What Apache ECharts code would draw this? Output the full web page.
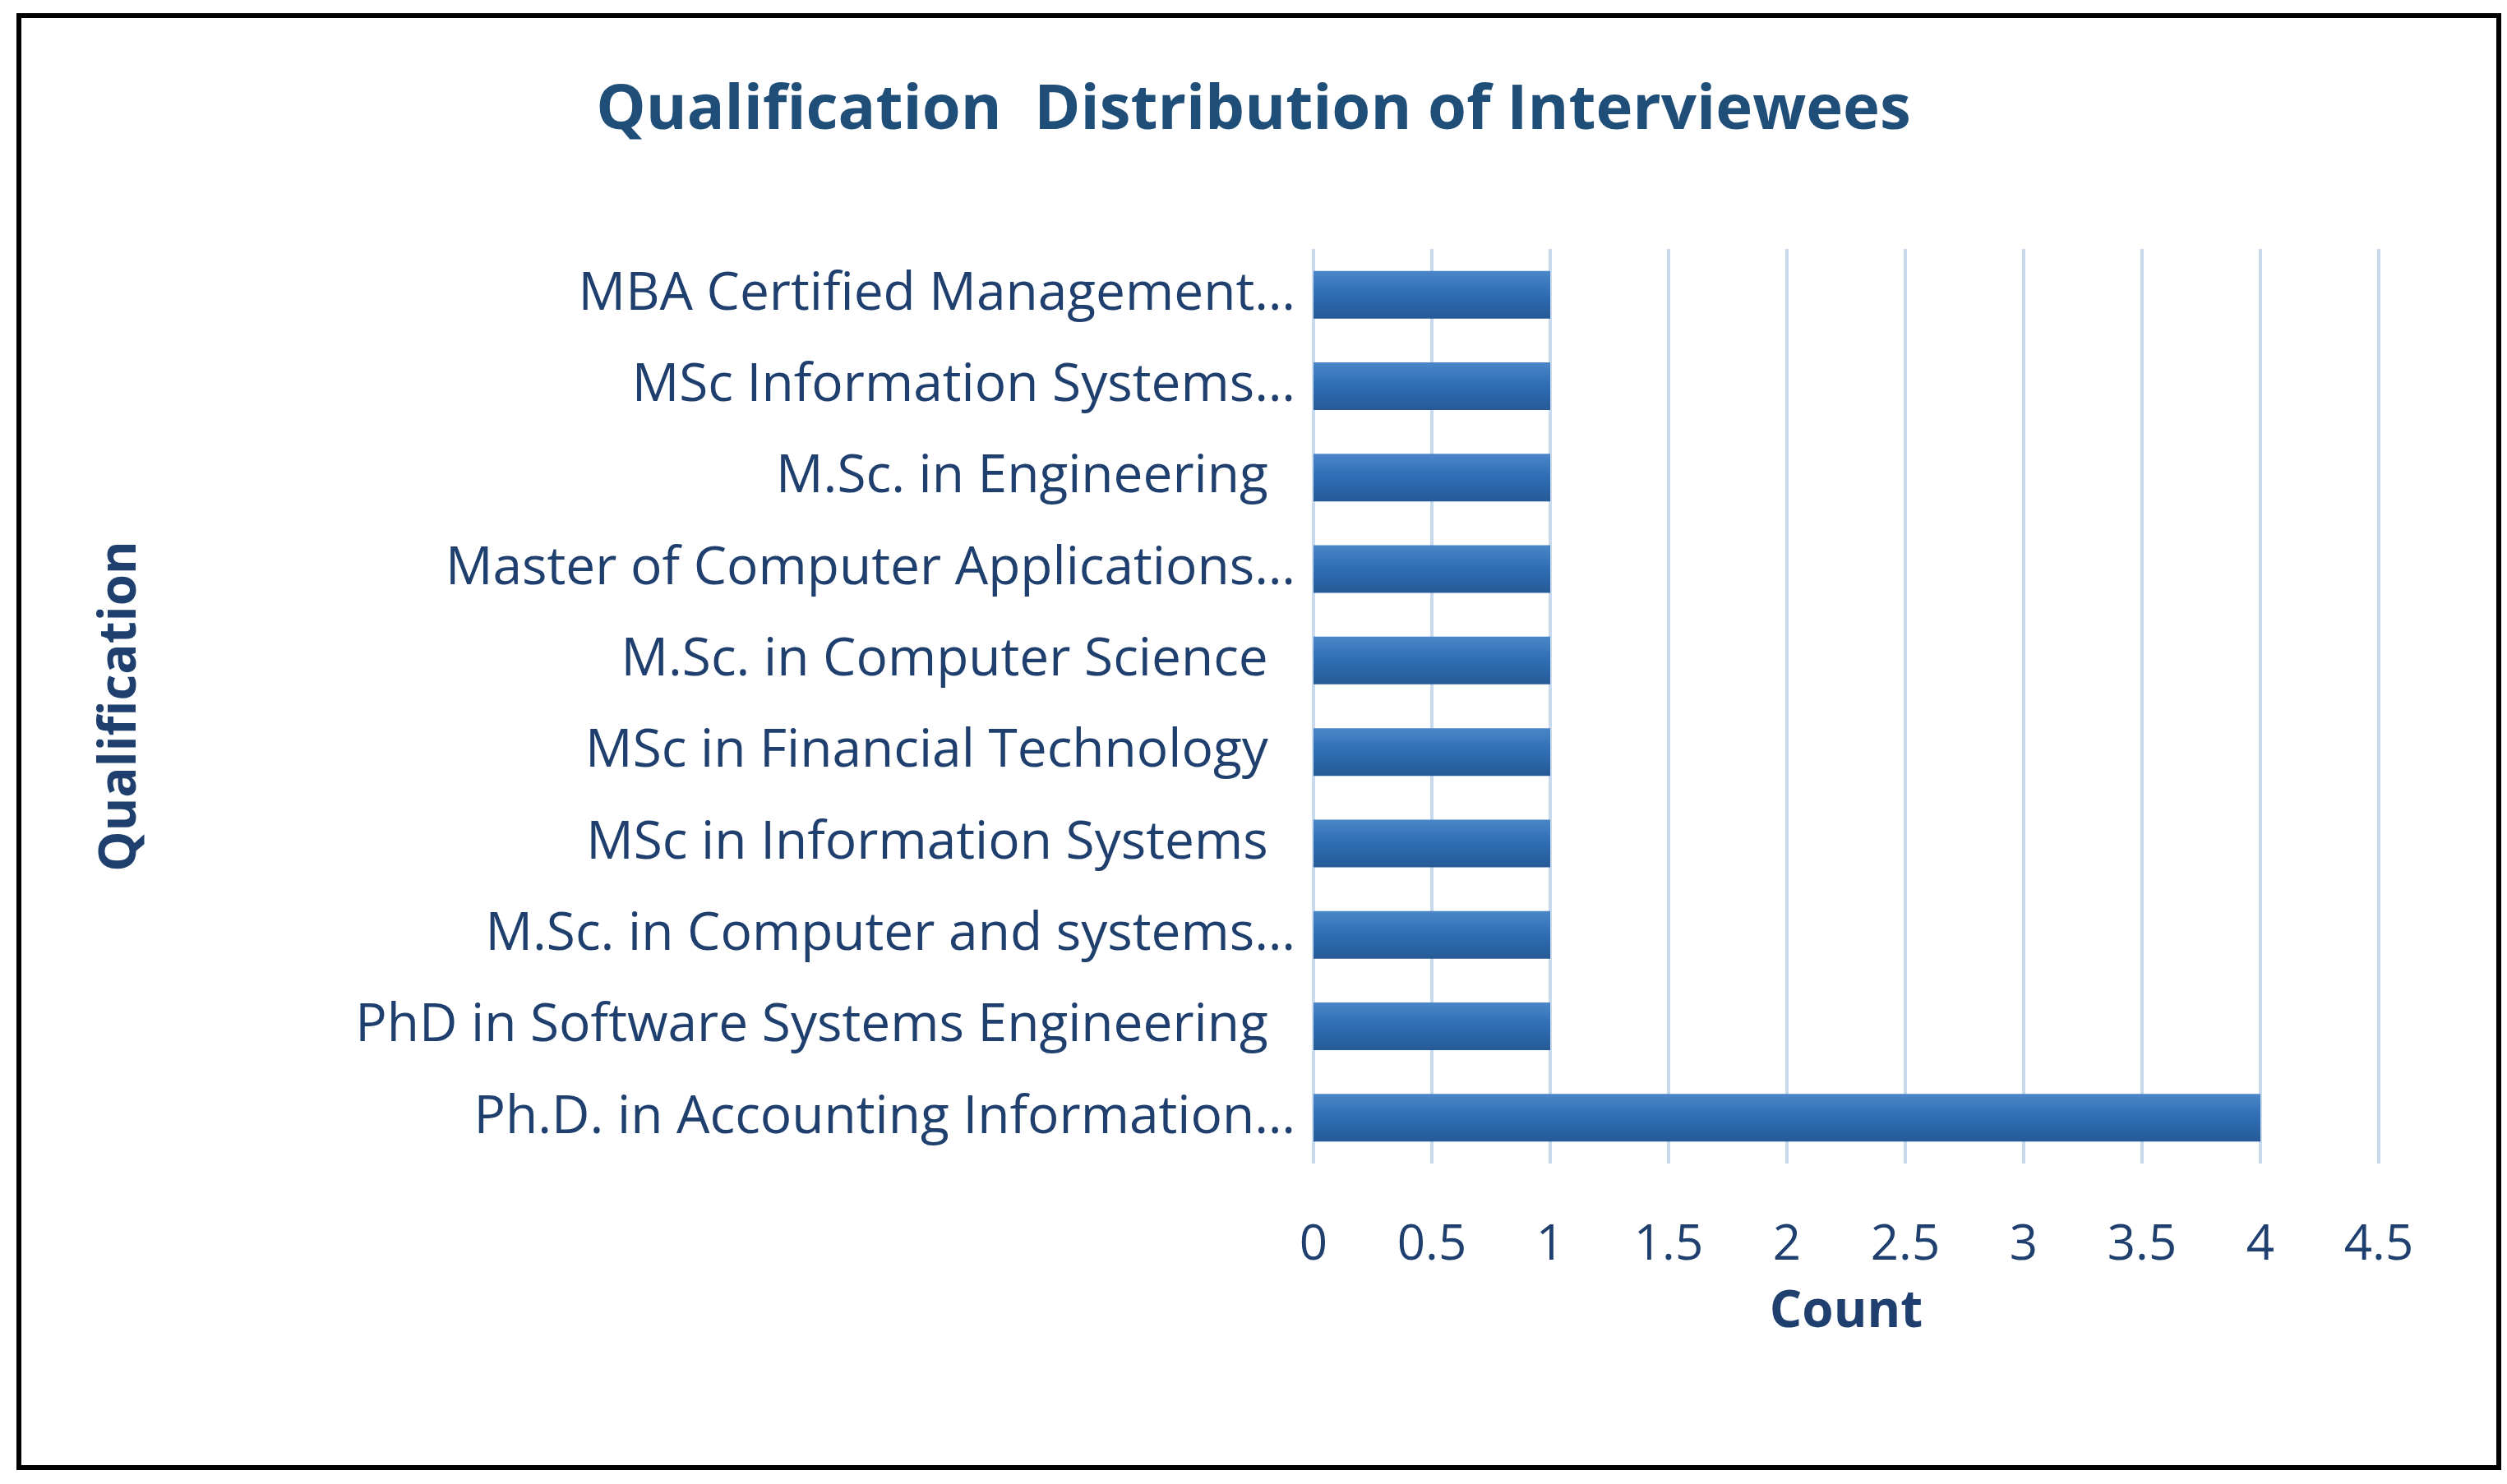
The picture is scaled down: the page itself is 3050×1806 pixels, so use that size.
<!DOCTYPE html>
<html><head><meta charset="utf-8">
<script src="https://cdn.jsdelivr.net/npm/echarts@6/dist/echarts.min.js"></script>
<style>
html,body{margin:0;background:#fff}
#box{position:absolute;left:20px;top:16px;width:3011px;height:1761px;border:6px solid #000}
#c{position:absolute;left:0;top:0;width:3050px;height:1806px}
</style></head>
<body>
<div id="box"></div>
<div id="c"></div>
<script>
// 数据
const categories = [
  'MBA Certified Management…',
  'MSc Information Systems…',
  'M.Sc. in Engineering  ',
  'Master of Computer Applications…',
  'M.Sc. in Computer Science  ',
  'MSc in Financial Technology  ',
  'MSc in Information Systems  ',
  'M.Sc. in Computer and systems…',
  'PhD in Software Systems Engineering  ',
  'Ph.D. in Accounting Information…'
];
const counts = [1,1,1,1,1,1,1,1,1,4];

const txt = '#1f3f6e';
const chart = echarts.init(document.getElementById('c'));
chart.setOption({
  title:{text:'Qualification  Distribution of Interviewees',left:'center',top:92,
    textStyle:{fontFamily:'Open Sans',fontSize:76,fontWeight:'bold',color:'#1f4e79'}},
  grid:{left:1598,right:156,top:303,bottom:390},
  xAxis:{type:'value',min:0,max:4.5,interval:0.5,
    name:'Count',nameLocation:'middle',nameGap:150,
    nameTextStyle:{fontFamily:'Open Sans',fontSize:62,fontWeight:'bold',color:txt},
    axisLine:{show:false},axisTick:{show:false},
    axisLabel:{fontFamily:'Open Sans',fontSize:60,color:txt,margin:70},
    splitLine:{lineStyle:{color:'#c9d9ee',width:4}}},
  yAxis:{type:'category',data:categories,inverse:true,
    name:'Qualification',nameLocation:'middle',nameGap:1420,nameRotate:90,
    nameTextStyle:{fontFamily:'Open Sans',fontSize:62,fontWeight:'bold',color:txt},
    axisLine:{show:false},axisTick:{show:false},
    axisLabel:{fontFamily:'Open Sans',fontSize:64,color:txt,margin:22}},
  series:[{type:'bar',data:counts,barWidth:58,
    itemStyle:{color:new echarts.graphic.LinearGradient(0,0,0,1,[
      {offset:0,color:'#4a86c8'},{offset:0.5,color:'#2e6db4'},{offset:1,color:'#265a96'}]),
      shadowColor:'rgba(0,0,0,0.35)',shadowBlur:8,shadowOffsetY:5}}]
});
</script>
</body></html>
